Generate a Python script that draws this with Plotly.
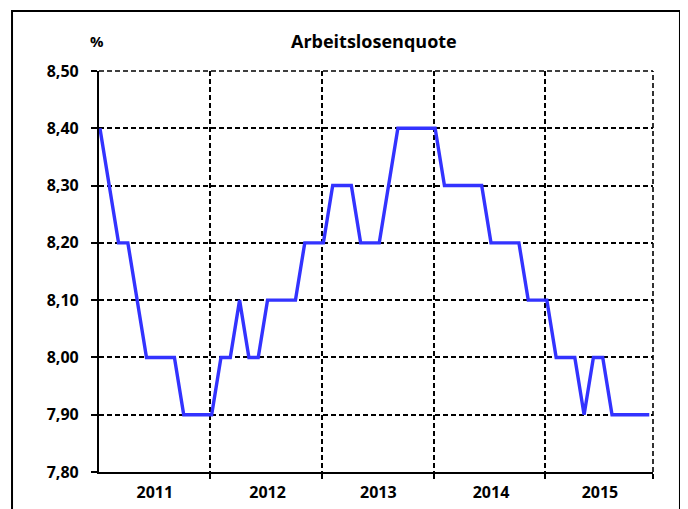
import plotly.graph_objects as go

# Monthly index (Jan 2011 = 0 ... Dec 2015 = 59)
months = list(range(60))
rate = [8.40, 8.30, 8.20, 8.20, 8.10, 8.00, 8.00, 8.00, 8.00, 7.90, 7.90, 7.90,
        7.90, 8.00, 8.00, 8.10, 8.00, 8.00, 8.10, 8.10, 8.10, 8.10, 8.20, 8.20,
        8.20, 8.30, 8.30, 8.30, 8.20, 8.20, 8.20, 8.30, 8.40, 8.40, 8.40, 8.40,
        8.40, 8.30, 8.30, 8.30, 8.30, 8.30, 8.20, 8.20, 8.20, 8.20, 8.10, 8.10,
        8.10, 8.00, 8.00, 8.00, 7.90, 8.00, 8.00, 7.90, 7.90, 7.90, 7.90, 7.90]

years = ["2011", "2012", "2013", "2014", "2015"]
year_centers = [5.9, 18.0, 29.9, 42.0, 53.7]
year_bounds = [11.85, 23.85, 35.85, 47.8, 59.4]
y_ticks = [7.8, 7.9, 8.0, 8.1, 8.2, 8.3, 8.4, 8.5]
y_labels = ["7,80", "7,90", "8,00", "8,10", "8,20", "8,30", "8,40", "8,50"]

FONT = "Open Sans"
DASH = "5px,3px"

fig = go.Figure()
fig.add_trace(go.Scatter(x=months, y=rate, mode="lines",
                         line=dict(color="#3333FF", width=3.4),
                         showlegend=False, hoverinfo="skip"))
# invisible trace to activate xaxis2 (year labels)
fig.add_trace(go.Scatter(x=[months[0]], y=[rate[0]], xaxis="x2", mode="markers",
                         marker=dict(opacity=0), showlegend=False, hoverinfo="skip"))

fig.update_layout(
    width=680, height=501,
    margin=dict(l=91, r=35, t=63, b=37),
    paper_bgcolor="white", plot_bgcolor="white",
    font=dict(family=FONT, color="black"),
    xaxis=dict(range=[-0.1, 59.4], tickvals=year_bounds, ticktext=[""] * 5,
               showgrid=True, gridcolor="black", gridwidth=1.6, griddash=DASH,
               showline=True, linecolor="black", linewidth=2.2,
               ticks="outside", ticklen=5, tickcolor="black", tickwidth=1.5,
               zeroline=False, fixedrange=True, automargin=False),
    xaxis2=dict(range=[-0.1, 59.4], overlaying="x", side="bottom",
                tickvals=year_centers, ticktext=years, showgrid=False,
                showline=False, ticks="", zeroline=False, automargin=False,
                tickfont=dict(size=16, family=FONT, weight="bold"), ticklabelstandoff=9),
    yaxis=dict(range=[7.8, 8.5], tickvals=y_ticks, ticktext=y_labels,
               showgrid=True, gridcolor="black", gridwidth=1.6, griddash=DASH,
               showline=True, linecolor="black", linewidth=2.2,
               ticks="outside", ticklen=6, tickcolor="black", tickwidth=1.5,
               ticklabelstandoff=9, automargin=False,
               tickfont=dict(size=16, family=FONT, weight="bold"),
               zeroline=False, fixedrange=True),
    annotations=[
        dict(text="Arbeitslosenquote", xref="paper", yref="paper", x=0.496, y=1.075,
             xanchor="center", yanchor="middle",
             showarrow=False, font=dict(size=18, family=FONT, weight="bold")),
        dict(text="%", xref="paper", yref="paper", x=-0.004, y=1.075,
             xanchor="center", yanchor="middle",
             showarrow=False, font=dict(size=15, family=FONT, weight="bold")),
    ],
    shapes=[
        dict(type="rect", xref="paper", yref="paper",
             x0=-0.157, x1=1.0487, y0=-0.12, y1=1.1496,
             line=dict(color="black", width=2), fillcolor="rgba(0,0,0,0)", layer="below"),
        dict(type="line", xref="paper", yref="paper", x0=0, x1=1, y0=1, y1=1,
             line=dict(color="black", width=1.6, dash=DASH), layer="below"),
        dict(type="line", xref="paper", yref="paper", x0=1, x1=1, y0=0, y1=1,
             line=dict(color="black", width=1.6, dash=DASH), layer="below"),
    ],
)

fig.write_html("out.html")
